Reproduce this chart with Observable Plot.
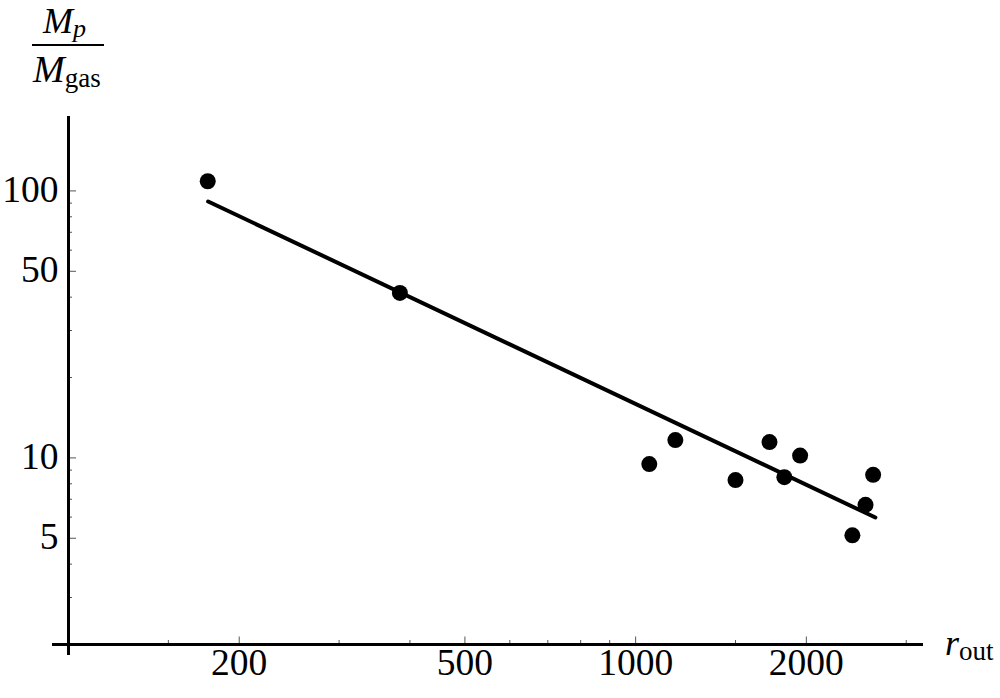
<!DOCTYPE html>
<html>
<head>
<meta charset="utf-8">
<script src="https://cdn.jsdelivr.net/npm/d3@7"></script>
<script src="https://cdn.jsdelivr.net/npm/@observablehq/plot@0.6"></script>
<style>
  html, body { margin: 0; padding: 0; background: #fff; }
  #chart { position: relative; width: 1000px; height: 698px; }
</style>
</head>
<body>
<div id="chart"></div>
<script>
// Data (log-log plot)
const rOut = [176, 384, 1057, 1175, 1500, 1722, 1829, 1950, 2411, 2543, 2623];
const massRatio = [108.7, 41.5, 9.48, 11.66, 8.26, 11.46, 8.47, 10.2, 5.13, 6.67, 8.64];
// fitted power-law line endpoints
const fitX = [176.3, 2647];
const fitY = [91.3, 5.98];

const xMajorTicks = [200, 500, 1000, 2000];
const xMinorTicks = [150, 300, 400, 600, 700, 800, 900, 1500, 3000];
const yMajorTicks = [5, 10, 50, 100];
const yMinorTicks = [3, 4, 6, 7, 8, 9, 20, 30, 40, 60, 70, 80, 90];

const xDomain = [100, 3218];
const yDomain = [2, 190];

const points = rOut.map((x, i) => ({x, y: massRatio[i]}));
const fit = fitX.map((x, i) => ({x, y: fitY[i]}));

const W = 1000, H = 698;
const mL = 68, mR = 77, mT = 116, mB = 54;
const innerW = W - mL - mR, innerH = H - mT - mB;
const serif = "'Liberation Serif', 'DejaVu Serif', serif";
const tickColor = "#555";

const plot = Plot.plot({
  width: W, height: H,
  marginLeft: mL, marginRight: mR, marginTop: mT, marginBottom: mB,
  x: {type: "log", domain: xDomain, axis: null},
  y: {type: "log", domain: yDomain, axis: null},
  style: {fontFamily: serif, background: "white", overflow: "visible"},
  marks: [
    // x ticks (pointing up, inside)
    Plot.ruleX(xMajorTicks, {x: d => d, insetTop: innerH - 7.5, stroke: tickColor, strokeWidth: 1}),
    Plot.ruleX(xMinorTicks, {x: d => d, insetTop: innerH - 4, stroke: tickColor, strokeWidth: 1}),
    // y ticks (pointing right, inside)
    Plot.ruleY(yMajorTicks, {y: d => d, insetRight: innerW - 8, stroke: tickColor, strokeWidth: 1}),
    Plot.ruleY(yMinorTicks, {y: d => d, insetRight: innerW - 4, stroke: tickColor, strokeWidth: 1}),
    // axes lines
    Plot.ruleY([yDomain[0]], {insetLeft: -16, stroke: "black", strokeWidth: 3}),
    Plot.ruleX([xDomain[0]], {insetBottom: -11, stroke: "black", strokeWidth: 3}),
    // tick labels
    Plot.text(xMajorTicks, {x: d => d, text: d => String(d), frameAnchor: "bottom", dy: 30,
      fontSize: 37.5, fontFamily: serif, fill: "black"}),
    Plot.text(yMajorTicks, {y: d => d, text: d => String(d), frameAnchor: "left", dx: -10, dy: -1,
      textAnchor: "end", fontSize: 37.5, fontFamily: serif, fill: "black"}),
    // fit line
    Plot.line(fit, {x: "x", y: "y", stroke: "black", strokeWidth: 4}),
    // data points
    Plot.dot(points, {x: "x", y: "y", r: 8, fill: "black", stroke: "none"})
  ]
});

document.getElementById("chart").appendChild(plot);

// Axis titles (math-style labels)
const svg = d3.select(plot);
const g = svg.append("g")
  .attr("text-anchor", "start")
  .style("font-family", serif)
  .attr("fill", "black");
// y-axis title: M_p / M_gas
const num = g.append("text").attr("x", 43).attr("y", 33)
  .style("font-size", "36px").style("font-style", "italic");
num.append("tspan").text("M");
num.append("tspan").style("font-size", "26px").attr("dy", 4).text("p");
g.append("line").attr("x1", 32).attr("x2", 104).attr("y1", 45).attr("y2", 45)
  .attr("stroke", "black").attr("stroke-width", 2);
const den = g.append("text").attr("x", 33).attr("y", 82).style("font-size", "38px");
den.append("tspan").style("font-style", "italic").text("M");
den.append("tspan").style("font-size", "27px").attr("dy", 5).text("gas");
// x-axis title: r_out
const xt = g.append("text").attr("x", 945).attr("y", 655).style("font-size", "36px");
xt.append("tspan").style("font-style", "italic").text("r");
xt.append("tspan").style("font-size", "27px").attr("dy", 5).text("out");
</script>
</body>
</html>
